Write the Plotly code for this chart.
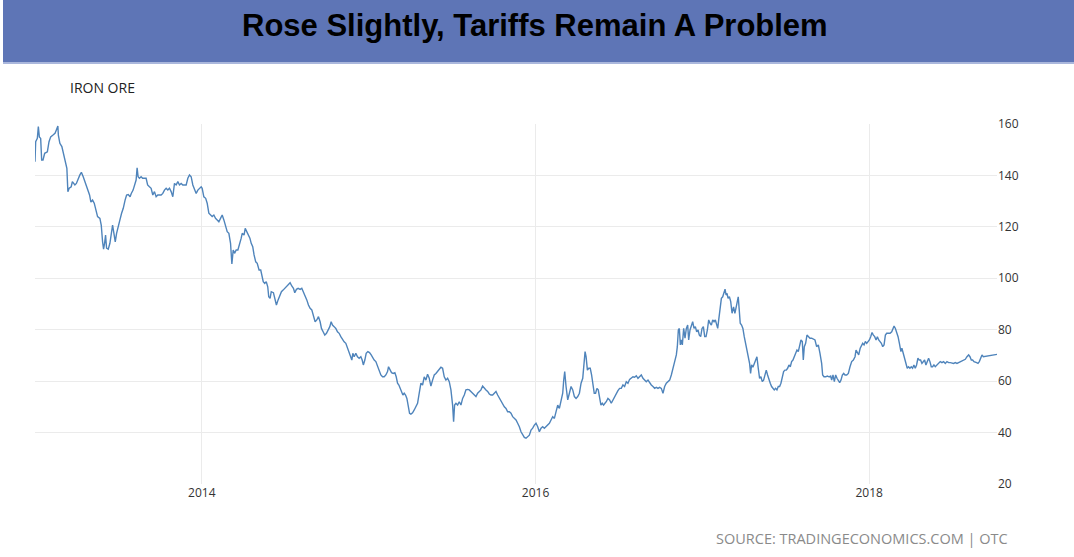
import plotly.graph_objects as go

# ---- data (decimal year, price USD/T) ----
years = [
2013.000,2013.004,2013.014,2013.020,2013.026,2013.034,2013.040,2013.048,2013.058,2013.074,
2013.084,2013.094,2013.108,2013.120,2013.128,2013.137,2013.140,2013.149,2013.161,2013.170,
2013.176,2013.185,2013.191,2013.197,2013.205,2013.217,2013.224,2013.239,2013.248,2013.269,
2013.278,2013.289,2013.299,2013.309,2013.317,2013.327,2013.335,2013.345,2013.355,2013.365,
2013.375,2013.389,2013.397,2013.405,2013.411,2013.417,2013.423,2013.429,2013.439,2013.449,
2013.457,2013.465,2013.473,2013.481,2013.489,2013.499,2013.509,2013.519,2013.529,2013.540,
2013.549,2013.559,2013.570,2013.577,2013.588,2013.606,2013.612,2013.618,2013.626,2013.636,
2013.645,2013.666,2013.675,2013.686,2013.696,2013.706,2013.716,2013.726,2013.736,2013.756,
2013.766,2013.776,2013.786,2013.796,2013.806,2013.816,2013.826,2013.836,2013.846,2013.856,
2013.866,2013.876,2013.886,2013.906,2013.916,2013.926,2013.936,2013.946,2013.956,2013.966,
2013.976,2013.996,2014.002,2014.012,2014.023,2014.032,2014.042,2014.052,2014.062,2014.072,
2014.082,2014.092,2014.102,2014.112,2014.122,2014.132,2014.142,2014.152,2014.162,2014.172,
2014.180,2014.188,2014.196,2014.206,2014.216,2014.226,2014.236,2014.242,2014.253,2014.260,
2014.269,2014.278,2014.288,2014.296,2014.305,2014.313,2014.323,2014.332,2014.343,2014.353,
2014.361,2014.368,2014.377,2014.386,2014.395,2014.401,2014.409,2014.416,2014.429,2014.437,
2014.447,2014.457,2014.467,2014.477,2014.487,2014.497,2014.509,2014.519,2014.529,2014.539,
2014.549,2014.557,2014.567,2014.577,2014.589,2014.599,2014.609,2014.619,2014.629,2014.639,
2014.649,2014.659,2014.669,2014.679,2014.689,2014.699,2014.709,2014.717,2014.727,2014.737,
2014.747,2014.757,2014.767,2014.775,2014.783,2014.793,2014.803,2014.813,2014.823,2014.833,
2014.843,2014.853,2014.863,2014.873,2014.883,2014.893,2014.899,2014.905,2014.913,2014.923,
2014.933,2014.943,2014.953,2014.961,2014.968,2014.977,2014.985,2014.995,2015.005,2015.015,
2015.025,2015.033,2015.043,2015.053,2015.063,2015.073,2015.083,2015.093,2015.103,2015.113,
2015.119,2015.127,2015.137,2015.147,2015.157,2015.165,2015.173,2015.181,2015.189,2015.197,
2015.205,2015.213,2015.221,2015.229,2015.237,2015.245,2015.253,2015.263,2015.273,2015.283,
2015.293,2015.303,2015.313,2015.323,2015.333,2015.343,2015.353,2015.363,2015.373,2015.383,
2015.393,2015.403,2015.413,2015.423,2015.433,2015.443,2015.453,2015.463,2015.473,2015.483,
2015.493,2015.503,2015.509,2015.515,2015.523,2015.533,2015.543,2015.553,2015.563,2015.573,
2015.583,2015.593,2015.603,2015.623,2015.643,2015.653,2015.673,2015.683,2015.693,2015.703,
2015.713,2015.723,2015.733,2015.743,2015.753,2015.763,2015.773,2015.783,2015.793,2015.803,
2015.813,2015.823,2015.833,2015.843,2015.853,2015.863,2015.873,2015.883,2015.893,2015.903,
2015.913,2015.923,2015.933,2015.943,2015.953,2015.963,2015.973,2015.983,2015.993,2016.003,
2016.013,2016.023,2016.033,2016.043,2016.053,2016.063,2016.073,2016.083,2016.093,2016.103,
2016.113,2016.123,2016.133,2016.143,2016.153,2016.163,2016.169,2016.175,2016.183,2016.193,
2016.203,2016.213,2016.223,2016.233,2016.243,2016.253,2016.263,2016.273,2016.283,2016.289,
2016.297,2016.303,2016.311,2016.319,2016.328,2016.336,2016.344,2016.352,2016.360,2016.368,
2016.376,2016.384,2016.392,2016.400,2016.408,2016.416,2016.424,2016.434,2016.444,2016.454,
2016.464,2016.474,2016.484,2016.494,2016.504,2016.514,2016.524,2016.534,2016.544,2016.554,
2016.564,2016.574,2016.584,2016.594,2016.604,2016.614,2016.624,2016.634,2016.644,2016.654,
2016.664,2016.674,2016.684,2016.694,2016.704,2016.714,2016.724,2016.734,2016.744,2016.754,
2016.764,2016.774,2016.784,2016.794,2016.804,2016.814,2016.824,2016.834,2016.844,2016.850,
2016.856,2016.862,2016.868,2016.874,2016.880,2016.888,2016.896,2016.904,2016.912,2016.918,
2016.926,2016.934,2016.942,2016.950,2016.958,2016.966,2016.974,2016.982,2016.990,2016.998,
2017.006,2017.014,2017.022,2017.030,2017.038,2017.046,2017.054,2017.062,2017.070,2017.078,
2017.092,2017.098,2017.106,2017.114,2017.122,2017.130,2017.136,2017.142,2017.148,2017.154,
2017.162,2017.170,2017.178,2017.187,2017.195,2017.203,2017.209,2017.215,2017.221,2017.227,
2017.235,2017.243,2017.251,2017.259,2017.267,2017.275,2017.283,2017.289,2017.295,2017.303,
2017.311,2017.319,2017.327,2017.335,2017.343,2017.351,2017.359,2017.367,2017.375,2017.383,
2017.391,2017.399,2017.407,2017.415,2017.423,2017.431,2017.439,2017.447,2017.455,2017.463,
2017.471,2017.479,2017.487,2017.495,2017.503,2017.511,2017.519,2017.527,2017.535,2017.543,
2017.551,2017.559,2017.567,2017.575,2017.583,2017.591,2017.599,2017.605,2017.611,2017.619,
2017.627,2017.635,2017.645,2017.655,2017.675,2017.685,2017.695,2017.705,2017.715,2017.721,
2017.729,2017.739,2017.749,2017.759,2017.769,2017.775,2017.783,2017.791,2017.799,2017.807,
2017.815,2017.823,2017.831,2017.839,2017.847,2017.855,2017.865,2017.875,2017.885,2017.895,
2017.905,2017.915,2017.921,2017.929,2017.937,2017.946,2017.953,2017.961,2017.969,2017.977,
2017.985,2017.993,2018.001,2018.009,2018.017,2018.025,2018.033,2018.041,2018.049,2018.057,
2018.065,2018.073,2018.081,2018.089,2018.097,2018.105,2018.125,2018.135,2018.143,2018.149,
2018.157,2018.165,2018.173,2018.181,2018.190,2018.196,2018.204,2018.212,2018.220,2018.228,
2018.236,2018.244,2018.252,2018.260,2018.268,2018.276,2018.284,2018.292,2018.300,2018.308,
2018.316,2018.324,2018.332,2018.340,2018.348,2018.356,2018.364,2018.372,2018.380,2018.388,
2018.396,2018.406,2018.416,2018.426,2018.436,2018.446,2018.456,2018.466,2018.476,2018.486,
2018.506,2018.516,2018.526,2018.546,2018.566,2018.576,2018.586,2018.596,2018.604,2018.612,
2018.620,2018.628,2018.644,2018.652,2018.660,2018.668,2018.676,2018.684,2018.700,2018.716,
2018.736,2018.756,2018.766,
]

price = [
145.3,153.1,154.4,159.0,155.0,154.4,146.0,146.0,148.6,149.2,
153.1,155.0,155.7,156.4,157.7,159.2,155.7,152.5,151.2,148.6,
147.3,145.3,142.8,133.7,135.0,135.6,137.6,136.3,136.9,140.2,
141.2,139.5,137.6,136.3,134.3,132.4,129.6,130.4,129.2,125.9,
124.0,123.3,120.7,114.2,111.3,113.6,116.8,111.7,111.3,113.6,
117.5,120.7,117.5,114.2,117.5,120.7,122.7,125.3,127.2,130.4,
132.4,132.6,131.7,133.0,134.3,138.2,143.0,139.5,138.9,139.5,
138.9,138.9,136.3,135.6,135.0,132.4,133.7,131.7,132.4,132.4,
133.0,134.3,135.0,134.3,135.0,133.7,131.7,136.9,136.3,137.6,
136.3,136.9,136.3,136.3,138.9,140.2,139.5,136.3,134.3,133.0,
134.3,135.6,135.0,131.7,131.1,129.2,125.3,124.6,124.0,124.6,
123.3,122.7,122.0,123.3,124.6,122.7,120.1,118.1,117.5,113.6,
105.6,111.0,109.7,111.0,111.0,113.0,115.6,117.5,116.8,119.4,
118.1,117.5,115.6,113.6,112.3,109.1,106.4,105.8,103.2,103.2,
100.6,98.7,98.0,98.7,96.7,92.8,92.2,94.8,94.4,92.2,
89.6,91.6,93.5,94.8,95.4,96.1,96.7,97.4,98.3,97.0,
96.1,94.4,95.7,96.1,95.7,96.1,94.8,93.5,91.6,89.6,
88.3,87.7,85.1,83.1,83.8,85.1,83.1,80.5,79.2,77.9,
78.6,79.9,81.2,83.1,81.8,81.2,80.5,79.2,78.6,77.3,
76.0,75.3,74.7,72.7,70.8,69.5,68.2,70.8,69.5,70.8,
69.5,68.9,69.5,68.2,66.3,68.2,70.8,71.5,71.1,70.2,
68.9,68.2,67.6,65.6,63.7,62.4,61.7,61.7,62.4,63.7,
65.6,64.3,63.3,63.0,63.3,61.7,59.2,58.5,57.2,55.3,
54.6,55.3,54.6,53.3,50.0,47.5,47.2,47.7,48.8,50.3,
51.4,55.3,59.2,58.5,61.7,60.4,62.7,61.1,58.1,60.4,
62.4,63.0,63.7,64.3,65.4,65.0,61.7,60.4,61.1,59.8,
56.6,50.7,44.2,50.7,51.4,50.7,52.0,50.7,53.3,54.6,
56.6,56.8,56.6,55.3,54.0,55.3,56.6,58.1,57.2,56.6,
56.0,55.0,54.6,54.6,55.3,56.0,54.6,53.3,52.0,50.7,
50.0,49.4,48.1,48.1,47.5,46.2,45.5,44.9,43.6,42.3,
40.3,39.0,38.1,37.8,38.4,39.0,41.0,41.7,42.9,43.6,
42.3,40.3,41.7,42.3,41.7,42.3,42.9,43.6,44.9,46.2,
45.5,48.1,50.7,49.4,52.7,55.3,60.4,63.7,57.9,52.7,
55.3,57.9,56.6,54.0,53.3,54.0,55.3,59.2,61.1,65.0,
71.5,69.5,64.3,65.0,65.0,62.4,58.5,55.3,55.3,57.2,
56.6,54.0,50.7,51.4,50.7,51.4,52.0,53.3,52.7,51.4,
52.7,54.0,55.0,56.3,57.2,57.2,58.5,57.9,59.8,59.2,
60.7,61.1,61.7,61.5,62.1,61.1,61.7,62.4,61.1,60.4,
59.8,60.4,59.2,58.5,57.9,57.2,57.6,57.2,57.6,57.2,
55.3,57.9,59.2,59.8,60.4,62.4,65.6,67.6,70.2,73.4,
79.9,80.5,74.1,76.0,74.1,80.5,76.7,80.5,81.8,76.0,
79.9,81.2,83.1,80.5,81.2,79.2,79.9,77.9,77.3,80.5,
81.2,77.3,77.3,79.9,83.8,82.5,81.8,83.8,83.1,83.8,
80.5,83.8,88.3,92.2,92.8,94.1,95.8,93.5,94.1,92.2,
92.8,90.9,86.4,88.9,86.4,88.9,90.9,92.8,87.7,82.5,
81.8,80.5,77.3,74.7,72.1,68.2,66.9,63.0,66.3,65.4,
66.9,67.6,69.5,65.0,61.1,61.7,59.8,60.4,62.4,64.3,
62.4,60.4,59.2,57.9,57.2,56.6,57.2,56.6,57.9,57.9,
59.2,61.7,63.7,64.3,64.3,65.0,66.3,65.6,67.6,68.2,
69.5,70.2,72.1,71.5,73.4,76.0,75.4,68.2,73.4,74.7,
77.9,77.3,76.7,76.7,76.0,73.4,74.1,70.8,66.9,62.4,
61.7,61.7,62.0,61.7,62.0,60.4,62.4,59.8,62.4,61.1,
60.4,59.4,60.4,62.4,63.0,62.4,62.4,63.0,65.6,67.6,
68.2,69.5,72.1,70.8,70.2,72.8,74.1,74.7,74.1,75.4,
74.7,75.4,76.0,77.3,78.9,77.9,77.3,76.0,77.3,76.0,
75.4,74.7,73.4,74.1,77.9,78.6,78.6,79.2,80.5,81.4,
80.5,79.2,77.3,74.7,71.5,72.8,70.8,68.2,66.3,65.0,
65.6,65.0,65.6,65.0,66.3,65.0,66.3,68.9,68.2,68.2,
66.9,67.6,68.2,66.3,67.6,68.9,67.6,65.6,65.6,66.3,
65.6,66.3,66.9,67.6,67.2,67.6,66.9,67.6,67.2,67.2,
66.9,67.2,66.9,67.6,68.2,68.5,69.5,70.2,69.5,68.2,
68.2,67.6,67.2,66.9,67.6,68.9,70.2,69.5,69.7,69.7,
70.2,70.2,70.4,
]

x_ticks = [2014, 2016, 2018]
y_ticks = [20, 40, 60, 80, 100, 120, 140, 160]

title_text = "Rose Slightly, Tariffs Remain A Problem"
series_name = "IRON ORE"
source_text = "SOURCE: TRADINGECONOMICS.COM | OTC"

# ---- layout geometry (pixels) ----
W, H = 1074, 557
L, R, T, B = 35, 77, 124, 73
pw, ph = W - L - R, H - T - B

def px_x(px):
    return (px - L) / pw

def px_y(py):
    return (H - B - py) / ph

fig = go.Figure()
fig.add_trace(go.Scatter(
    x=years, y=price, mode="lines",
    line=dict(color="#4f84bb", width=1.4),
    hoverinfo="x+y", showlegend=False,
))

fig.update_layout(
    width=W, height=H,
    margin=dict(l=L, r=R, t=T, b=B, pad=0),
    paper_bgcolor="white", plot_bgcolor="white",
    xaxis=dict(
        range=[years[0], years[-1]],
        tickvals=x_ticks, ticktext=[str(v) for v in x_ticks],
        showgrid=True, gridcolor="#ebebeb", gridwidth=1,
        zeroline=False, showline=False, ticks="",
        tickfont=dict(family="Open Sans", size=12, color="#333333"),
    ),
    yaxis=dict(
        range=[20, 160], side="right",
        tickvals=y_ticks,
        showgrid=True, gridcolor="#ebebeb", gridwidth=1,
        zeroline=False, showline=False, ticks="",
        tickfont=dict(family="Open Sans", size=12, color="#333333"),
    ),
    shapes=[
        dict(type="rect", xref="paper", yref="paper",
             x0=px_x(3), x1=px_x(W), y0=px_y(62), y1=px_y(0),
             fillcolor="#5e75b6", line=dict(width=0), layer="below"),
        dict(type="rect", xref="paper", yref="paper",
             x0=px_x(3), x1=px_x(W), y0=px_y(64), y1=px_y(62),
             fillcolor="#aab7dc", line=dict(width=0), layer="below"),
    ],
    annotations=[
        dict(text="<b>" + title_text + "</b>", xref="paper", yref="paper",
             x=px_x(535), y=px_y(25), xanchor="center", yanchor="middle",
             showarrow=False,
             font=dict(family="Liberation Sans", size=31, color="#000000")),
        dict(text=series_name, xref="paper", yref="paper",
             x=px_x(68), y=px_y(88), xanchor="left", yanchor="middle",
             showarrow=False,
             font=dict(family="Open Sans", size=14, color="#222222")),
        dict(text=source_text, xref="paper", yref="paper",
             x=px_x(1010), y=px_y(538), xanchor="right", yanchor="middle",
             showarrow=False,
             font=dict(family="Open Sans", size=14.5, color="#8a8a8a")),
    ],
)

fig.write_html("out.html")
